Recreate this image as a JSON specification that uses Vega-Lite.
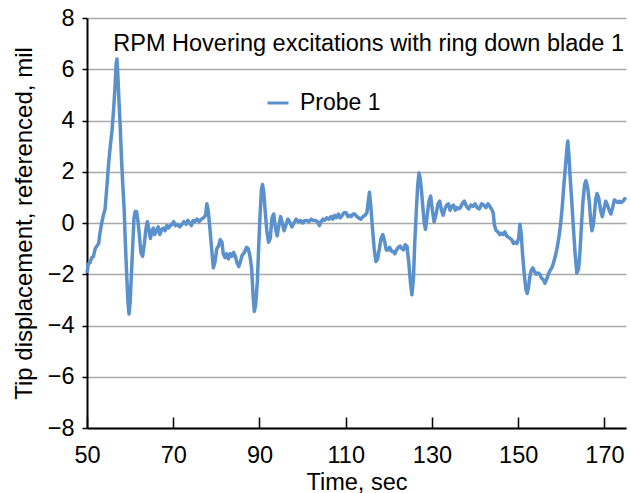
{
  "$schema": "https://vega.github.io/schema/vega-lite/v6.json",
  "width": 539,
  "height": 410,
  "autosize": {"type": "none"},
  "padding": {"left": 87, "top": 18, "right": 5, "bottom": 65},
  "background": "white",
  "title": {
    "text": "RPM Hovering excitations with ring down blade 1",
    "anchor": "end",
    "frame": "group",
    "orient": "top",
    "baseline": "alphabetic",
    "offset": -27,
    "dy": 41,
    "dx": -2,
    "font": "Liberation Sans",
    "fontSize": 23.5,
    "fontWeight": "normal",
    "color": "black"
  },
  "config": {
    "view": {"stroke": null},
    "font": "Liberation Sans",
    "axis": {
      "labelFont": "Liberation Sans",
      "titleFont": "Liberation Sans",
      "labelColor": "black",
      "titleColor": "black",
      "titleFontWeight": "normal",
      "domainColor": "black",
      "domainWidth": 2,
      "tickColor": "black",
      "tickWidth": 1.5
    }
  },
  "data": {
    "values": [
      {"t": 50.0, "v": -1.95}, {"t": 50.3, "v": -1.6}, {"t": 50.7, "v": -1.55}, {"t": 51.1, "v": -1.35},
      {"t": 51.5, "v": -1.3}, {"t": 51.9, "v": -1.0}, {"t": 52.3, "v": -0.9}, {"t": 52.7, "v": -0.8},
      {"t": 53.0, "v": -0.4}, {"t": 53.4, "v": 0.0}, {"t": 53.8, "v": 0.3}, {"t": 54.2, "v": 0.55},
      {"t": 54.6, "v": 1.4}, {"t": 55.0, "v": 2.3}, {"t": 55.4, "v": 3.0}, {"t": 55.8, "v": 3.6},
      {"t": 56.2, "v": 4.5}, {"t": 56.5, "v": 5.3}, {"t": 56.75, "v": 6.2}, {"t": 56.95, "v": 6.4},
      {"t": 57.15, "v": 5.8}, {"t": 57.4, "v": 4.8}, {"t": 57.7, "v": 3.8}, {"t": 58.0, "v": 2.5},
      {"t": 58.3, "v": 1.5}, {"t": 58.6, "v": 0.6}, {"t": 58.9, "v": -0.8}, {"t": 59.2, "v": -2.0},
      {"t": 59.5, "v": -3.1}, {"t": 59.75, "v": -3.55}, {"t": 60.0, "v": -3.1}, {"t": 60.3, "v": -2.0},
      {"t": 60.6, "v": -0.9}, {"t": 60.9, "v": 0.2}, {"t": 61.2, "v": 0.45}, {"t": 61.5, "v": 0.45},
      {"t": 61.8, "v": 0.1}, {"t": 62.1, "v": -0.4}, {"t": 62.5, "v": -1.15}, {"t": 62.9, "v": -1.3},
      {"t": 63.3, "v": -0.8}, {"t": 63.7, "v": -0.2}, {"t": 64.0, "v": 0.05}, {"t": 64.3, "v": -0.2},
      {"t": 64.7, "v": -0.6}, {"t": 65.1, "v": -0.3}, {"t": 65.4, "v": -0.2}, {"t": 65.7, "v": -0.45},
      {"t": 66.1, "v": -0.3}, {"t": 66.5, "v": -0.15}, {"t": 66.9, "v": -0.45}, {"t": 67.3, "v": -0.25},
      {"t": 67.7, "v": -0.2}, {"t": 68.1, "v": -0.3}, {"t": 68.5, "v": -0.1}, {"t": 68.9, "v": -0.2},
      {"t": 69.3, "v": -0.1}, {"t": 69.7, "v": -0.05}, {"t": 70.1, "v": 0.05}, {"t": 70.5, "v": -0.1},
      {"t": 71.0, "v": -0.05}, {"t": 71.5, "v": -0.15}, {"t": 72.0, "v": -0.05}, {"t": 72.5, "v": 0.05},
      {"t": 73.0, "v": -0.05}, {"t": 73.4, "v": 0.1}, {"t": 73.8, "v": 0.0}, {"t": 74.2, "v": -0.1},
      {"t": 74.6, "v": 0.1}, {"t": 75.0, "v": 0.05}, {"t": 75.5, "v": 0.15}, {"t": 76.0, "v": 0.05},
      {"t": 76.5, "v": 0.15}, {"t": 77.0, "v": 0.2}, {"t": 77.5, "v": 0.3}, {"t": 77.8, "v": 0.75},
      {"t": 78.1, "v": 0.5}, {"t": 78.5, "v": -0.2}, {"t": 78.9, "v": -1.0}, {"t": 79.3, "v": -1.75},
      {"t": 79.7, "v": -1.5}, {"t": 80.1, "v": -1.0}, {"t": 80.5, "v": -0.9}, {"t": 80.9, "v": -0.65},
      {"t": 81.3, "v": -0.75}, {"t": 81.6, "v": -1.2}, {"t": 82.0, "v": -1.35}, {"t": 82.4, "v": -1.2},
      {"t": 82.8, "v": -1.4}, {"t": 83.2, "v": -1.2}, {"t": 83.6, "v": -1.3}, {"t": 84.0, "v": -1.15},
      {"t": 84.4, "v": -1.3}, {"t": 84.8, "v": -1.55}, {"t": 85.2, "v": -1.7}, {"t": 85.6, "v": -1.5},
      {"t": 86.0, "v": -1.25}, {"t": 86.5, "v": -1.15}, {"t": 87.0, "v": -0.95}, {"t": 87.4, "v": -1.0},
      {"t": 87.8, "v": -1.3}, {"t": 88.2, "v": -1.8}, {"t": 88.5, "v": -2.8}, {"t": 88.8, "v": -3.45},
      {"t": 89.1, "v": -3.2}, {"t": 89.5, "v": -2.3}, {"t": 89.8, "v": -1.0}, {"t": 90.1, "v": 0.2},
      {"t": 90.45, "v": 1.3}, {"t": 90.7, "v": 1.5}, {"t": 91.0, "v": 1.2}, {"t": 91.3, "v": 0.5},
      {"t": 91.7, "v": -0.3}, {"t": 92.1, "v": -0.75}, {"t": 92.5, "v": -0.6}, {"t": 92.9, "v": 0.2},
      {"t": 93.3, "v": 0.35}, {"t": 93.7, "v": -0.2}, {"t": 94.1, "v": -0.5}, {"t": 94.5, "v": -0.1},
      {"t": 94.9, "v": 0.25}, {"t": 95.3, "v": 0.0}, {"t": 95.7, "v": -0.3}, {"t": 96.1, "v": -0.1},
      {"t": 96.6, "v": 0.15}, {"t": 97.0, "v": 0.05}, {"t": 97.5, "v": -0.15}, {"t": 98.0, "v": 0.0},
      {"t": 98.5, "v": 0.15}, {"t": 99.0, "v": 0.05}, {"t": 99.5, "v": 0.1}, {"t": 100.0, "v": 0.0},
      {"t": 100.5, "v": 0.1}, {"t": 101.0, "v": 0.1}, {"t": 101.5, "v": 0.05}, {"t": 102.0, "v": 0.15},
      {"t": 102.5, "v": 0.1}, {"t": 103.0, "v": 0.1}, {"t": 103.5, "v": 0.05}, {"t": 103.9, "v": -0.1},
      {"t": 104.3, "v": 0.05}, {"t": 104.7, "v": 0.15}, {"t": 105.1, "v": 0.1}, {"t": 105.6, "v": 0.2},
      {"t": 106.1, "v": 0.15}, {"t": 106.6, "v": 0.25}, {"t": 107.0, "v": 0.15}, {"t": 107.4, "v": 0.3},
      {"t": 107.8, "v": 0.2}, {"t": 108.3, "v": 0.35}, {"t": 108.7, "v": 0.2}, {"t": 109.2, "v": 0.3},
      {"t": 109.6, "v": 0.4}, {"t": 110.1, "v": 0.4}, {"t": 110.5, "v": 0.25}, {"t": 110.9, "v": 0.3},
      {"t": 111.3, "v": 0.25}, {"t": 111.7, "v": 0.35}, {"t": 112.1, "v": 0.35}, {"t": 112.6, "v": 0.25},
      {"t": 113.0, "v": 0.2}, {"t": 113.5, "v": 0.15}, {"t": 114.0, "v": 0.25}, {"t": 114.5, "v": 0.3},
      {"t": 114.9, "v": 0.4}, {"t": 115.2, "v": 0.8}, {"t": 115.5, "v": 1.2}, {"t": 115.8, "v": 0.7},
      {"t": 116.2, "v": -0.2}, {"t": 116.6, "v": -1.0}, {"t": 117.0, "v": -1.5}, {"t": 117.4, "v": -1.4},
      {"t": 117.8, "v": -1.0}, {"t": 118.2, "v": -0.6}, {"t": 118.6, "v": -0.45}, {"t": 119.0, "v": -0.7},
      {"t": 119.4, "v": -1.05}, {"t": 119.8, "v": -1.05}, {"t": 120.2, "v": -0.95}, {"t": 120.6, "v": -1.1},
      {"t": 121.0, "v": -1.1}, {"t": 121.4, "v": -1.2}, {"t": 121.8, "v": -1.05}, {"t": 122.2, "v": -0.95},
      {"t": 122.6, "v": -0.9}, {"t": 123.0, "v": -1.0}, {"t": 123.4, "v": -1.05}, {"t": 123.8, "v": -0.85},
      {"t": 124.2, "v": -0.9}, {"t": 124.6, "v": -1.5}, {"t": 125.0, "v": -2.3}, {"t": 125.35, "v": -2.8},
      {"t": 125.7, "v": -2.2}, {"t": 126.0, "v": -0.8}, {"t": 126.35, "v": 0.4}, {"t": 126.7, "v": 1.5},
      {"t": 127.0, "v": 1.95}, {"t": 127.3, "v": 1.7}, {"t": 127.6, "v": 1.2}, {"t": 127.9, "v": 0.6},
      {"t": 128.2, "v": 0.0}, {"t": 128.5, "v": -0.25}, {"t": 128.9, "v": 0.3}, {"t": 129.3, "v": 0.85},
      {"t": 129.7, "v": 1.05}, {"t": 130.1, "v": 0.5}, {"t": 130.5, "v": 0.05}, {"t": 130.9, "v": 0.3},
      {"t": 131.4, "v": 0.75}, {"t": 131.8, "v": 0.85}, {"t": 132.2, "v": 0.5}, {"t": 132.6, "v": 0.3},
      {"t": 133.0, "v": 0.55}, {"t": 133.4, "v": 0.7}, {"t": 133.8, "v": 0.75}, {"t": 134.2, "v": 0.5},
      {"t": 134.6, "v": 0.65}, {"t": 135.0, "v": 0.7}, {"t": 135.4, "v": 0.5}, {"t": 135.8, "v": 0.6},
      {"t": 136.2, "v": 0.55}, {"t": 136.6, "v": 0.6}, {"t": 137.0, "v": 0.75}, {"t": 137.5, "v": 0.85},
      {"t": 138.0, "v": 0.65}, {"t": 138.5, "v": 0.55}, {"t": 139.0, "v": 0.7}, {"t": 139.5, "v": 0.65},
      {"t": 140.0, "v": 0.75}, {"t": 140.5, "v": 0.6}, {"t": 141.0, "v": 0.55}, {"t": 141.5, "v": 0.75},
      {"t": 142.0, "v": 0.7}, {"t": 142.5, "v": 0.6}, {"t": 143.0, "v": 0.75}, {"t": 143.4, "v": 0.65},
      {"t": 143.8, "v": 0.55}, {"t": 144.2, "v": 0.4}, {"t": 144.5, "v": -0.1}, {"t": 144.9, "v": -0.3},
      {"t": 145.3, "v": -0.35}, {"t": 145.7, "v": -0.45}, {"t": 146.1, "v": -0.4}, {"t": 146.5, "v": -0.45},
      {"t": 146.9, "v": -0.35}, {"t": 147.3, "v": -0.5}, {"t": 147.7, "v": -0.55}, {"t": 148.1, "v": -0.6},
      {"t": 148.5, "v": -0.65}, {"t": 148.9, "v": -0.8}, {"t": 149.3, "v": -0.75}, {"t": 149.7, "v": -0.8},
      {"t": 150.1, "v": -0.6}, {"t": 150.4, "v": -0.05}, {"t": 150.7, "v": -0.4}, {"t": 151.0, "v": -1.2},
      {"t": 151.4, "v": -2.0}, {"t": 151.8, "v": -2.6}, {"t": 152.1, "v": -2.75}, {"t": 152.4, "v": -2.5},
      {"t": 152.7, "v": -2.1}, {"t": 153.0, "v": -1.85}, {"t": 153.4, "v": -1.75}, {"t": 153.8, "v": -1.9},
      {"t": 154.2, "v": -2.0}, {"t": 154.6, "v": -1.95}, {"t": 155.0, "v": -2.0}, {"t": 155.4, "v": -2.15},
      {"t": 155.8, "v": -2.2}, {"t": 156.2, "v": -2.35}, {"t": 156.6, "v": -2.2}, {"t": 157.0, "v": -2.0},
      {"t": 157.4, "v": -1.85}, {"t": 157.8, "v": -1.75}, {"t": 158.2, "v": -1.55}, {"t": 158.6, "v": -1.3},
      {"t": 159.0, "v": -1.0}, {"t": 159.4, "v": -0.6}, {"t": 159.8, "v": -0.1}, {"t": 160.2, "v": 0.6},
      {"t": 160.6, "v": 1.5}, {"t": 161.0, "v": 2.3}, {"t": 161.3, "v": 2.9}, {"t": 161.5, "v": 3.2},
      {"t": 161.75, "v": 2.7}, {"t": 162.0, "v": 1.9}, {"t": 162.4, "v": 0.9}, {"t": 162.8, "v": -0.2},
      {"t": 163.2, "v": -1.2}, {"t": 163.6, "v": -1.95}, {"t": 164.0, "v": -1.8}, {"t": 164.3, "v": -1.2},
      {"t": 164.7, "v": 0.0}, {"t": 165.0, "v": 0.8}, {"t": 165.4, "v": 1.5}, {"t": 165.7, "v": 1.65},
      {"t": 166.1, "v": 1.4}, {"t": 166.5, "v": 0.8}, {"t": 166.8, "v": 0.1}, {"t": 167.1, "v": -0.3},
      {"t": 167.4, "v": -0.1}, {"t": 167.7, "v": 0.4}, {"t": 168.0, "v": 0.95}, {"t": 168.3, "v": 1.15},
      {"t": 168.7, "v": 0.95}, {"t": 169.1, "v": 0.5}, {"t": 169.5, "v": 0.25}, {"t": 169.9, "v": 0.55},
      {"t": 170.3, "v": 0.85}, {"t": 170.7, "v": 0.7}, {"t": 171.1, "v": 0.5}, {"t": 171.5, "v": 0.35},
      {"t": 171.9, "v": 0.6}, {"t": 172.3, "v": 0.9}, {"t": 172.7, "v": 0.85}, {"t": 173.1, "v": 0.8},
      {"t": 173.5, "v": 0.85}, {"t": 173.9, "v": 0.8}, {"t": 174.3, "v": 0.85}, {"t": 174.7, "v": 0.95},
      {"t": 175.0, "v": 0.9}
    ]
  },
  "mark": {"type": "line", "strokeWidth": 3.5, "interpolate": "linear", "strokeJoin": "round"},
  "encoding": {
    "x": {
      "field": "t",
      "type": "quantitative",
      "scale": {"domain": [50, 175], "nice": false, "zero": false},
      "axis": {
        "title": "Time, sec",
        "values": [50, 70, 90, 110, 130, 150, 170],
        "grid": false,
        "tickSize": -11,
        "labelPadding": 26,
        "labelFontSize": 23.5,
        "titleFontSize": 23.5,
        "titlePadding": 4,
        "labelFlush": false
      }
    },
    "y": {
      "field": "v",
      "type": "quantitative",
      "scale": {"domain": [-8, 8], "nice": false},
      "axis": {
        "title": "Tip displacement, referenced, mil",
        "values": [-8, -6, -4, -2, 0, 2, 4, 6, 8],
        "grid": true,
        "gridColor": "#a8a8a8",
        "gridWidth": 1.5,
        "tickSize": 5,
        "labelPadding": 8,
        "labelFontSize": 23.5,
        "titleFontSize": 24,
        "titlePadding": 11
      }
    },
    "color": {
      "datum": "Probe 1",
      "type": "nominal",
      "scale": {"range": ["#5a90cc"]},
      "legend": {
        "title": null,
        "orient": "none",
        "legendX": 179,
        "legendY": 73,
        "padding": 0,
        "symbolType": "stroke",
        "symbolStrokeWidth": 3,
        "symbolSize": 441,
        "labelFontSize": 23,
        "labelFont": "Liberation Sans",
        "labelColor": "black",
        "labelOffset": 10
      }
    }
  }
}
